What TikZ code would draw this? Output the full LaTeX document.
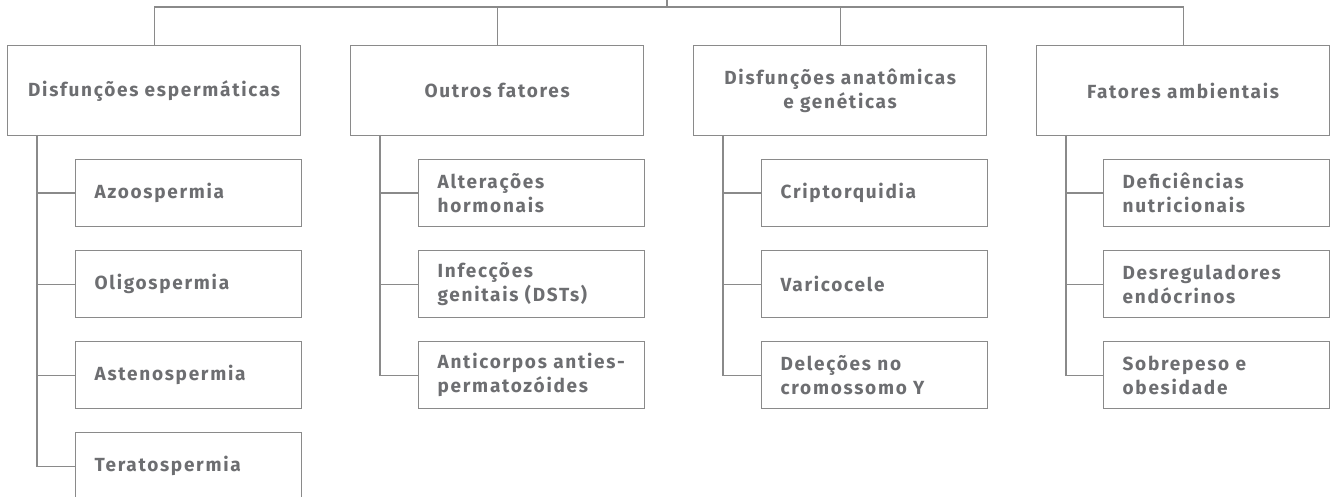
\documentclass[tikz,border=0pt]{standalone}
\usepackage{fontspec}
\setmainfont{Fira Sans}[LetterSpace=9]
\definecolor{txt}{HTML}{6D6E71}
\definecolor{ln}{HTML}{8A8A8A}
\begin{document}
\begin{tikzpicture}[x=1pt,y=-1pt,
  every node/.style={font=\fontsize{19}{24}\selectfont\bfseries, text=txt},
  topbox/.style={draw=ln, line width=1.3pt, minimum width=293pt, minimum height=90pt, align=center, anchor=north west, inner sep=0pt},
  childbox/.style={draw=ln, line width=1.3pt, minimum width=226pt, minimum height=67pt, text width=188pt, align=left, anchor=north west, inner xsep=19pt, inner ysep=0pt},
  conn/.style={draw=ln, line width=1.3pt}]
\useasboundingbox (0,0) rectangle (1333,497);

\coordinate (root) at (667,0);
\coordinate (bar) at (667,7);

\node[topbox] (t1) at (7,45) {Disfunções espermáticas};
\node[topbox] (t2) at (350,45) {Outros fatores};
\node[topbox] (t3) at (693,45) {Disfunções anatômicas\\e genéticas};
\node[topbox] (t4) at (1036,45) {Fatores ambientais};

\draw[conn] (root) -- (bar);
\draw[conn] (t1.north) |- (bar) -| (t4.north);
\draw[conn] (t2.north) -- (t2.north |- bar);
\draw[conn] (t3.north) -- (t3.north |- bar);

% column 1
\node[childbox] (a1) at (75,159) {Azoospermia};
\node[childbox] (a2) at (75,250) {Oligospermia};
\node[childbox] (a3) at (75,341) {Astenospermia};
\node[childbox] (a4) at (75,432) {Teratospermia};
\coordinate (s1) at (37,135);
\draw[conn] (s1) |- (a4.west);
\draw[conn] (s1 |- a1.west) -- (a1.west);
\draw[conn] (s1 |- a2.west) -- (a2.west);
\draw[conn] (s1 |- a3.west) -- (a3.west);

% column 2
\node[childbox] (b1) at (418,159) {Alterações\\hormonais};
\node[childbox] (b2) at (418,250) {Infecções\\genitais (DSTs)};
\node[childbox] (b3) at (418,341) {Anticorpos anties-\\permatozóides};
\coordinate (s2) at (380,135);
\draw[conn] (s2) |- (b3.west);
\draw[conn] (s2 |- b1.west) -- (b1.west);
\draw[conn] (s2 |- b2.west) -- (b2.west);

% column 3
\node[childbox] (c1) at (761,159) {Criptorquidia};
\node[childbox] (c2) at (761,250) {Varicocele};
\node[childbox] (c3) at (761,341) {Deleções no\\cromossomo Y};
\coordinate (s3) at (723,135);
\draw[conn] (s3) |- (c3.west);
\draw[conn] (s3 |- c1.west) -- (c1.west);
\draw[conn] (s3 |- c2.west) -- (c2.west);

% column 4
\node[childbox] (d1) at (1103,159) {Deficiências\\nutricionais};
\node[childbox] (d2) at (1103,250) {Desreguladores\\endócrinos};
\node[childbox] (d3) at (1103,341) {Sobrepeso e\\obesidade};
\coordinate (s4) at (1066,135);
\draw[conn] (s4) |- (d3.west);
\draw[conn] (s4 |- d1.west) -- (d1.west);
\draw[conn] (s4 |- d2.west) -- (d2.west);
\end{tikzpicture}
\end{document}
